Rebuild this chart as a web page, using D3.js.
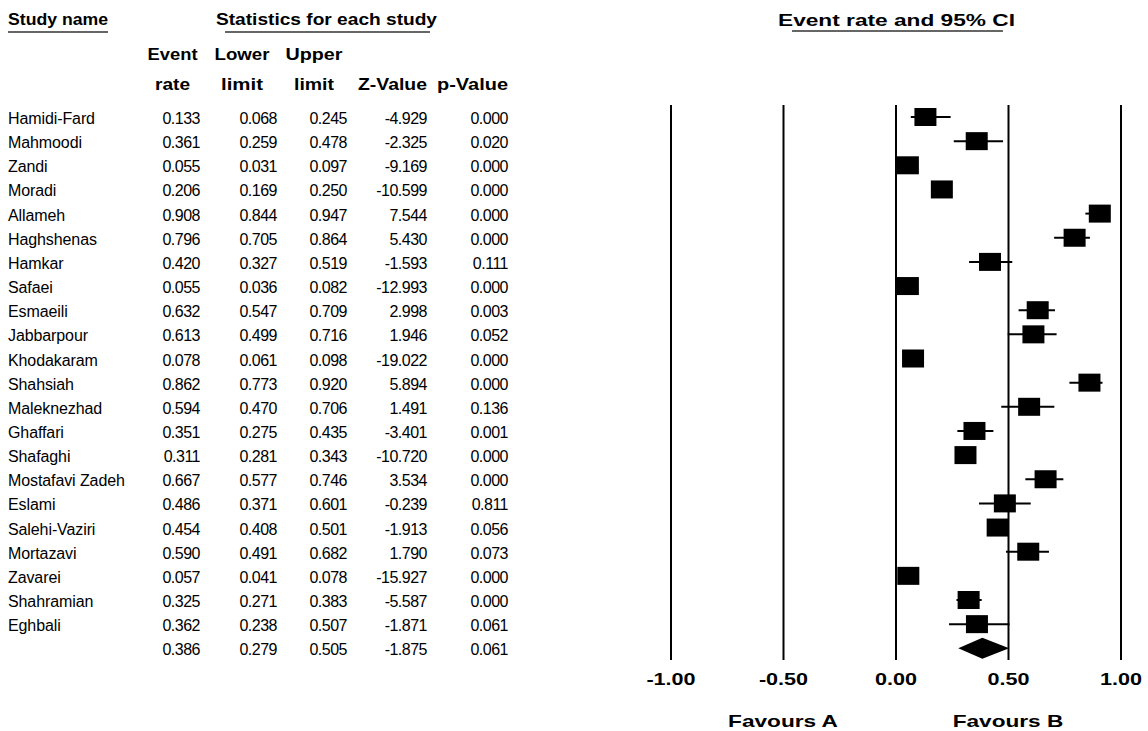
<!DOCTYPE html>
<html>
<head>
<meta charset="utf-8">
<script src="https://cdn.jsdelivr.net/npm/d3@7"></script>
<style>
  body { margin: 0; background: #fff; }
  text { font-family: "Liberation Sans", Arial, sans-serif; fill: #000; }
  .b { font-weight: bold; }
</style>
</head>
<body>
<svg id="chart" width="1148" height="731"></svg>
<script>
// ---------- data ----------
const studies = ["Hamidi-Fard","Mahmoodi","Zandi","Moradi","Allameh","Haghshenas","Hamkar","Safaei",
  "Esmaeili","Jabbarpour","Khodakaram","Shahsiah","Maleknezhad","Ghaffari","Shafaghi","Mostafavi Zadeh",
  "Eslami","Salehi-Vaziri","Mortazavi","Zavarei","Shahramian","Eghbali"];
const eventRate = [0.133,0.361,0.055,0.206,0.908,0.796,0.420,0.055,0.632,0.613,0.078,0.862,0.594,0.351,0.311,0.667,0.486,0.454,0.590,0.057,0.325,0.362];
const lowerLimit = [0.068,0.259,0.031,0.169,0.844,0.705,0.327,0.036,0.547,0.499,0.061,0.773,0.470,0.275,0.281,0.577,0.371,0.408,0.491,0.041,0.271,0.238];
const upperLimit = [0.245,0.478,0.097,0.250,0.947,0.864,0.519,0.082,0.709,0.716,0.098,0.920,0.706,0.435,0.343,0.746,0.601,0.501,0.682,0.078,0.383,0.507];
const zValue = [-4.929,-2.325,-9.169,-10.599,7.544,5.430,-1.593,-12.993,2.998,1.946,-19.022,5.894,1.491,-3.401,-10.720,3.534,-0.239,-1.913,1.790,-15.927,-5.587,-1.871];
const pValue = [0.000,0.020,0.000,0.000,0.000,0.000,0.111,0.000,0.003,0.052,0.000,0.000,0.136,0.001,0.000,0.000,0.811,0.056,0.073,0.000,0.000,0.061];
// pooled (summary) row: event rate, lower, upper, Z, p
const summaryStats = [0.386, 0.279, 0.505, -1.875, 0.061];
const tickValues = [-1, -0.5, 0, 0.5, 1];
const favourLabels = ["Favours A", "Favours B"];
const favourPositions = [-0.5, 0.5];

// ---------- layout ----------
const svg = d3.select("#chart");
const x = d3.scaleLinear().domain([-1, 1]).range([670.5, 1120.5]);
const nRows = studies.length + 1;
const y = d3.scaleLinear().domain([0, nRows - 1]).range([117, 648.3]);
const plotTop = 105, plotBottom = 660;
const textOff = 7;

function fit(sel, w) {
  sel.attr("textLength", w).attr("lengthAdjust", "spacingAndGlyphs");
  return sel;
}

// ---------- headers ----------
const hdr = svg.append("g").attr("class", "b").style("font-size", "17px");
fit(hdr.append("text").attr("x", 8).attr("y", 25).text("Study name"), 100);
fit(hdr.append("text").attr("x", 216).attr("y", 25).text("Statistics for each study"), 221);
fit(hdr.append("text").attr("x", 778).attr("y", 26).text("Event rate and 95% CI"), 237);
const ul = [[8,108,32],[225,430,32],[792,1003,31]];
svg.selectAll("line.ul").data(ul).join("line").attr("class","ul")
  .attr("x1", d => d[0]).attr("x2", d => d[1]).attr("y1", d => d[2]).attr("y2", d => d[2])
  .attr("stroke", "#333").attr("stroke-width", 1.3);

const colHeaders = [
  {l1:"Event", l2:"rate", cx:172.5, w1:50, w2:35},
  {l1:"Lower", l2:"limit", cx:242, w1:55, w2:42},
  {l1:"Upper", l2:"limit", cx:314, w1:57, w2:40},
  {l1:"", l2:"Z-Value", cx:392.5, w1:0, w2:69},
  {l1:"", l2:"p-Value", cx:472.5, w1:0, w2:71}
];
const colHdr = svg.append("g").attr("class", "b").style("font-size", "16.5px");
colHeaders.forEach(c => {
  if (c.l1) fit(colHdr.append("text").attr("x", c.cx).attr("y", 60).attr("text-anchor","middle").text(c.l1), c.w1);
  fit(colHdr.append("text").attr("x", c.cx).attr("y", 90).attr("text-anchor","middle").text(c.l2), c.w2);
});

// ---------- table ----------
const body = svg.append("g").style("font-size", "16px");
const colRight = [200, 277, 347, 427, 508];
const rows = studies.map((s, i) => ({name: s, vals: [eventRate[i], lowerLimit[i], upperLimit[i], zValue[i], pValue[i]], i}));
rows.push({name: "", vals: summaryStats, i: studies.length});

body.selectAll("text.name").data(rows).join("text").attr("class","name")
  .attr("x", 8).attr("y", d => y(d.i) + textOff)
  .style("letter-spacing", "-0.1px")
  .text(d => d.name);

rows.forEach(r => {
  r.vals.forEach((v, j) => {
    body.append("text").attr("x", colRight[j]).attr("y", y(r.i) + textOff)
      .attr("text-anchor", "end").style("letter-spacing", "-0.5px")
      .text(v.toFixed(3));
  });
});

// ---------- axis / reference lines ----------
const axis = d3.axisBottom(x).tickValues(tickValues).tickFormat(d => d.toFixed(2))
  .tickSize(-(plotBottom - plotTop)).tickPadding(13);
const ag = svg.append("g").attr("transform", `translate(0,${plotBottom})`).call(axis);
ag.select(".domain").remove();
ag.selectAll(".tick line").attr("stroke", "#000").attr("stroke-width", 2);
ag.selectAll(".tick text").attr("fill", "#000")
  .style("font-family", '"Liberation Sans", Arial, sans-serif')
  .style("font-weight", "bold").style("font-size", "17px")
  .each(function() {
    const w = this.getComputedTextLength();
    d3.select(this).attr("textLength", w * 1.27).attr("lengthAdjust", "spacingAndGlyphs");
  });

svg.selectAll("text.fav").data(favourLabels).join("text").attr("class","fav b")
  .attr("x", (d, i) => x(favourPositions[i])).attr("y", 727)
  .attr("text-anchor", "middle").style("font-size", "17px")
  .text(d => d)
  .each(function() {
    const w = this.getComputedTextLength();
    d3.select(this).attr("textLength", w * 1.33).attr("lengthAdjust", "spacingAndGlyphs");
  });

// ---------- marks ----------
const studyRows = rows.slice(0, studies.length);
svg.selectAll("line.ci").data(studyRows).join("line").attr("class","ci")
  .attr("x1", d => x(d.vals[1])).attr("x2", d => x(d.vals[2]))
  .attr("y1", d => y(d.i)).attr("y2", d => y(d.i))
  .attr("stroke", "#000").attr("stroke-width", 2);

const sqW = 22, sqH = 18;
svg.selectAll("rect.pt").data(studyRows).join("rect").attr("class","pt")
  .attr("x", d => x(d.vals[0]) - sqW / 2).attr("y", d => y(d.i) - sqH / 2)
  .attr("width", sqW).attr("height", sqH).attr("fill", "#000");

const sy = y(studies.length), dh = 10.5;
svg.append("path")
  .attr("d", `M${x(summaryStats[1])},${sy}L${x(summaryStats[0])},${sy - dh}L${x(summaryStats[2])},${sy}L${x(summaryStats[0])},${sy + dh}Z`)
  .attr("fill", "#000");
</script>
</body>
</html>
